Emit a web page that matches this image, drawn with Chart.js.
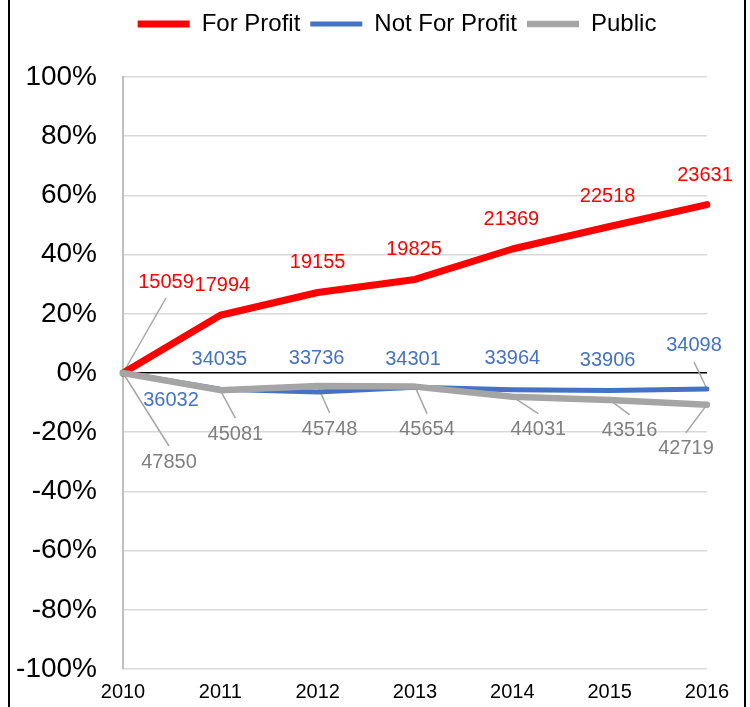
<!DOCTYPE html>
<html lang="en">
<head>
<meta charset="UTF-8">
<title>Enrollment change since 2010</title>
<script src="https://cdn.jsdelivr.net/npm/chart.js"></script>
<style>
    body {
        margin: 0;
        background: #fff;
    }
    #wrap {
        position: relative;
        width: 750px;
        height: 707px;
    }
    #frame {
        position: absolute;
        left: 8px;
        top: 0;
        width: 734px;
        height: 707px;
        border-left: 2px solid #000;
        border-right: 2px solid #000;
    }
    #chart {
        position: absolute;
        left: 0;
        top: 0;
    }
</style>
</head>
<body>
<div id="wrap">
    <div id="frame"></div>
    <canvas id="chart" width="750" height="707"></canvas>
</div>
<script>
    // categories and y ticks
    const years = ['2010', '2011', '2012', '2013', '2014', '2015', '2016'];
    const yTickValues = [-100, -80, -60, -40, -20, 0, 20, 40, 60, 80, 100];

    // % change since 2010
    const forProfitPct = [0, 19.5, 27.2, 31.6, 41.9, 49.5, 56.9];
    const notForProfitPct = [0, -5.5, -6.4, -4.8, -5.7, -5.9, -5.4];
    const publicPct = [0, -5.8, -4.4, -4.6, -8.0, -9.1, -10.7];

    // counts shown as data labels
    const forProfitCounts = [15059, 17994, 19155, 19825, 21369, 22518, 23631];
    const notForProfitCounts = [36032, 34035, 33736, 34301, 33964, 33906, 34098];
    const publicCounts = [47850, 45081, 45748, 45654, 44031, 43516, 42719];

    // label placement relative to the point (dx, dy) and leader-line flags
    const forProfitOffsets = [[43, -91], [2, -30], [0, -30], [-1, -30], [-1, -29], [-2, -30], [-2, -29]];
    const notForProfitOffsets = [[48, 27], [-1, -30], [-1, -33], [-2, -28], [0, -31], [-2, -30], [-13, -43]];
    const publicOffsets = [[46, 89], [15, 44], [12, 43], [12, 43], [26, 33], [20, 31], [-21, 44]];
    const forProfitLeaders = [true, false, false, false, false, false, false];
    const notForProfitLeaders = [false, false, false, false, false, false, true];
    const publicLeaders = [true, true, true, true, true, true, true];

    const FONT = '"Liberation Sans", Arial, sans-serif';

    const labelSets = [
        { counts: forProfitCounts, offsets: forProfitOffsets, leaders: forProfitLeaders, color: '#ff0000' },
        { counts: notForProfitCounts, offsets: notForProfitOffsets, leaders: notForProfitLeaders, color: '#4472c4' },
        { counts: publicCounts, offsets: publicOffsets, leaders: publicLeaders, color: '#7f7f7f' }
    ];

    // Leader lines under the series, number labels on top
    const pointLabels = {
        id: 'pointLabels',
        beforeDatasetsDraw(chart) {
            const ctx = chart.ctx;
            ctx.save();
            ctx.strokeStyle = '#a6a6a6';
            ctx.lineWidth = 1.5;
            labelSets.forEach((set, di) => {
                chart.getDatasetMeta(di).data.forEach((pt, i) => {
                    if (!set.leaders[i]) return;
                    const [dx, dy] = set.offsets[i];
                    ctx.beginPath();
                    ctx.moveTo(pt.x, pt.y);
                    ctx.lineTo(pt.x + dx, pt.y + dy + (dy < 0 ? 16 : -16));
                    ctx.stroke();
                });
            });
            ctx.restore();
        },
        afterDatasetsDraw(chart) {
            const ctx = chart.ctx;
            ctx.save();
            ctx.font = '20px ' + FONT;
            ctx.textAlign = 'center';
            ctx.textBaseline = 'middle';
            labelSets.forEach((set, di) => {
                ctx.fillStyle = set.color;
                chart.getDatasetMeta(di).data.forEach((pt, i) => {
                    const [dx, dy] = set.offsets[i];
                    ctx.fillText(String(set.counts[i]), pt.x + dx, pt.y + dy);
                });
            });
            ctx.restore();
        }
    };

    // extra room under the legend, and shift it a bit right like the original
    const legendSpacer = {
        id: 'legendSpacer',
        beforeInit(chart) {
            const fit = chart.legend.fit;
            chart.legend.fit = function () {
                fit.call(this);
                this.height += 31;
            };
        },
        afterLayout(chart) {
            chart.legend.left = 87;
        }
    };

    const lineStyle = {
        fill: false,
        tension: 0,
        pointRadius: 0,
        pointHoverRadius: 0,
        borderCapStyle: 'round',
        borderJoinStyle: 'round'
    };

    new Chart(document.getElementById('chart'), {
        type: 'line',
        data: {
            labels: years,
            datasets: [
                { ...lineStyle, label: 'For Profit', data: forProfitPct, borderColor: '#ff0000', backgroundColor: '#ff0000', borderWidth: 7, order: 2 },
                { ...lineStyle, label: 'Not For Profit', data: notForProfitPct, borderColor: '#4472c4', backgroundColor: '#4472c4', borderWidth: 5, order: 1 },
                { ...lineStyle, label: 'Public', data: publicPct, borderColor: '#a5a5a5', backgroundColor: '#a5a5a5', borderWidth: 6.5, order: 0 }
            ]
        },
        options: {
            responsive: false,
            animation: false,
            layout: { padding: { left: 8, right: 43, top: 2, bottom: 3 } },
            plugins: {
                legend: {
                    position: 'top',
                    labels: {
                        sort: (a, b) => a.datasetIndex - b.datasetIndex,
                        usePointStyle: true,
                        pointStyle: 'line',
                        pointStyleWidth: 52,
                        padding: 10,
                        color: '#000',
                        font: { size: 24, family: FONT }
                    }
                },
                tooltip: { enabled: false }
            },
            scales: {
                x: {
                    afterFit: scale => {
                        scale.height = 35;
                    },
                    grid: { display: false, drawTicks: false },
                    border: { display: false },
                    ticks: {
                        color: '#000',
                        padding: 11,
                        maxRotation: 0,
                        font: { size: 20, family: FONT }
                    }
                },
                y: {
                    min: -100,
                    max: 100,
                    afterBuildTicks: scale => {
                        scale.ticks = yTickValues.map(v => ({ value: v }));
                    },
                    afterFit: scale => {
                        scale.width = 115;
                        scale.paddingTop = 0;
                        scale.paddingBottom = 0;
                    },
                    grid: {
                        drawTicks: false,
                        lineWidth: 1.5,
                        color: c => (c.tick && c.tick.value === 0 ? '#000000' : '#d9d9d9')
                    },
                    border: { color: '#bfbfbf', width: 2 },
                    ticks: {
                        color: '#000',
                        padding: 26,
                        font: { size: 28, family: FONT },
                        callback: v => v + '%'
                    }
                }
            }
        },
        plugins: [pointLabels, legendSpacer]
    });
</script>
</body>
</html>
